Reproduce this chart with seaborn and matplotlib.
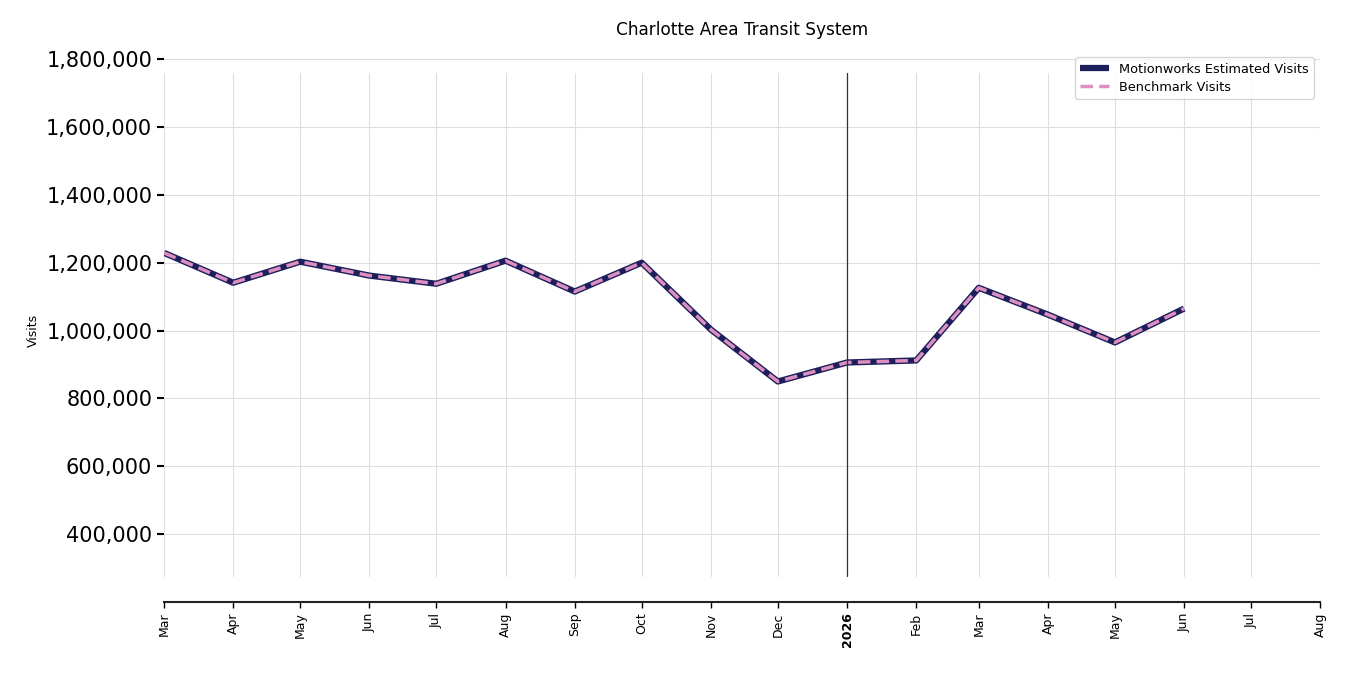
import pandas as pd
import seaborn as sns
import matplotlib.pyplot as plt
from matplotlib.ticker import FuncFormatter

months = pd.date_range("2025-03-01", "2026-06-01", freq="MS")
motionworks = [1229000, 1141000, 1203000, 1162000, 1138000, 1206000, 1115000, 1200000,
               1003000, 850000, 906000, 912000, 1126000, 1047000, 965000, 1065000]
benchmark = [1229000, 1141000, 1203000, 1162000, 1138000, 1206000, 1115000, 1200000,
             1003000, 850000, 906000, 912000, 1126000, 1047000, 965000, 1065000]
y_ticks = [400000, 600000, 800000, 1000000, 1200000, 1400000, 1600000, 1800000]
tick_months = pd.date_range("2025-03-01", "2026-08-01", freq="MS")

df = pd.DataFrame({"Month": months, "Motionworks": motionworks, "Benchmark": benchmark})

sns.set_style("white")
plt.rcParams["font.family"] = ["DejaVu Sans"]
plt.rcParams["text.color"] = "black"
plt.rcParams["axes.labelcolor"] = "black"
plt.rcParams["xtick.color"] = "black"
plt.rcParams["ytick.color"] = "black"

fig = plt.figure(figsize=(13.5, 6.75), dpi=100)
ax = fig.add_axes([0.1215, 0.108, 0.8565, 0.8045])

sns.lineplot(data=df, x="Month", y="Motionworks", ax=ax, color="#1c1f5c", linewidth=4.5,
             solid_capstyle="butt", label="Motionworks Estimated Visits")
sns.lineplot(data=df, x="Month", y="Benchmark", ax=ax, color="#dd8fc0", linewidth=2.5,
             linestyle=(0, (3.6, 1.8)), dash_capstyle="butt", label="Benchmark Visits")

ax.set_xlim(tick_months[0], tick_months[-1])
ax.set_ylim(200000, 1800000)
ax.set_yticks(y_ticks)
ax.yaxis.set_major_formatter(FuncFormatter(lambda v, p: f"{v:,.0f}"))
ax.grid(axis="y", color="#dedede", linewidth=0.8)
for m in tick_months:
    ax.axvline(m, ymin=0.048, ymax=0.974, color="#dedede", linewidth=0.8, zorder=0)
ax.axvline(pd.Timestamp("2026-01-01"), ymin=0.048, ymax=0.974, color="#333333", linewidth=0.9)

ax.set_xticks(tick_months)
labels = ["2026" if m.month == 1 else m.strftime("%b") for m in tick_months]
ax.set_xticklabels(labels, rotation=90, fontsize=9)
for lab in ax.get_xticklabels():
    if lab.get_text() == "2026":
        lab.set_fontweight("bold")
ax.tick_params(axis="y", labelsize=15, length=5, width=1.5, left=True, colors="black")
ax.tick_params(axis="x", length=4, width=1, bottom=True, colors="black")

sns.despine(ax=ax, left=True)
ax.spines["bottom"].set_linewidth(1.5)
ax.spines["bottom"].set_color("#222222")

ax.set_xlabel("")
ax.set_ylabel("Visits", fontsize=9)
ax.yaxis.set_label_coords(-0.107, 0.5)
ax.set_title("Charlotte Area Transit System", fontsize=12.2, pad=17)
ax.legend(loc="upper right", fontsize=9.3, frameon=True, bbox_to_anchor=(1.0, 1.015),
          handlelength=2.2, borderpad=0.4, labelspacing=0.4)

fig.savefig("out.png", dpi=100)
